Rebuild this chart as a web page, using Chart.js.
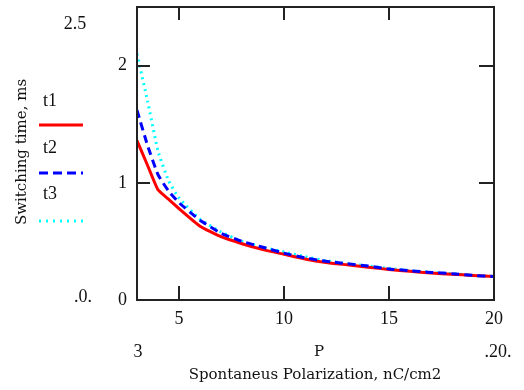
<!DOCTYPE html>
<html>
<head>
<meta charset="utf-8">
<script src="https://cdn.jsdelivr.net/npm/chart.js@4/dist/chart.umd.min.js"></script>
<style>
  html, body { margin: 0; padding: 0; background: #fff; }
  canvas { display: block; }
</style>
</head>
<body>
<canvas id="chart" width="524" height="390"></canvas>
<script>
// Switching time vs spontaneous polarization
const polarization = [3, 3.5, 4, 4.5, 5, 6, 7, 8, 9, 10, 11, 12, 13, 14, 15, 16, 17, 18, 19, 20];
const t1 = [1.36, 1.15, 0.94, 0.86, 0.78, 0.63, 0.54, 0.48, 0.43, 0.39, 0.35, 0.32, 0.30, 0.28, 0.26, 0.245, 0.23, 0.22, 0.21, 0.20];
const t2 = [1.62, 1.32, 1.07, 0.93, 0.83, 0.68, 0.57, 0.50, 0.45, 0.40, 0.36, 0.33, 0.31, 0.29, 0.265, 0.25, 0.235, 0.225, 0.21, 0.20];
const t3 = [2.10, 1.70, 1.27, 1.02, 0.87, 0.69, 0.58, 0.50, 0.45, 0.41, 0.37, 0.335, 0.31, 0.29, 0.27, 0.25, 0.235, 0.225, 0.21, 0.20];
const xTicks = [5, 10, 15, 20];
const yTicks = [0, 1, 2];
const seriesNames = ['t1', 't2', 't3'];

const colors = {
    t1: '#ff0000',
    t2: '#0000ff',
    t3: '#00ffff',
    axis: '#222222',
    text: '#111111'
};
const serif = "'Liberation Serif', 'DejaVu Serif', serif";
const titleFont = "'DejaVu Serif', serif";

function toPoints(values) {
    return polarization.map((p, i) => ({ x: p, y: values[i] }));
}

// Mathcad-style frame, inside ticks, legend and titles
const mathcadDecor = {
    id: 'mathcadDecor',
    afterDatasetsDraw(chart) {
        const ctx = chart.ctx;
        const area = chart.chartArea;
        const xs = chart.scales.x;
        const ys = chart.scales.y;
        ctx.save();

        // frame
        ctx.strokeStyle = colors.axis;
        ctx.lineWidth = 2;
        ctx.strokeRect(area.left, area.top, area.right - area.left, area.bottom - area.top);

        // inward ticks
        ctx.beginPath();
        [5, 10, 15].forEach(v => {
            const px = Math.round(xs.getPixelForValue(v));
            ctx.moveTo(px, area.bottom); ctx.lineTo(px, area.bottom - 14);
            ctx.moveTo(px, area.top); ctx.lineTo(px, area.top + 13);
        });
        [1, 2].forEach(v => {
            const py = Math.round(ys.getPixelForValue(v));
            ctx.moveTo(area.left, py); ctx.lineTo(area.left + 13, py);
            ctx.moveTo(area.right, py); ctx.lineTo(area.right - 15, py);
        });
        ctx.stroke();

        // limit labels
        ctx.fillStyle = colors.text;
        ctx.font = '18px ' + serif;
        ctx.textAlign = 'center';
        ctx.textBaseline = 'middle';
        ctx.fillText('2.5', 75, ys.getPixelForValue(2.5) + 17);
        ctx.fillText('.0.', 83, ys.getPixelForValue(0) - 3);
        ctx.fillText('3', xs.getPixelForValue(3) + 1, 352);
        ctx.fillText('.20.', xs.getPixelForValue(20) + 4, 352);
        ctx.font = '15px ' + titleFont;
        ctx.fillText('P', 319, 352);

        // axis titles
        ctx.fillText('Spontaneus Polarization, nC/cm2', 315, 375);
        ctx.save();
        ctx.translate(22, 152);
        ctx.rotate(-Math.PI / 2);
        ctx.fillText('Switching time, ms', 0, 0);
        ctx.restore();

        // legend
        const legendRows = [
            { label: seriesNames[0], color: colors.t1, dash: [], textY: 101, lineY: 125 },
            { label: seriesNames[1], color: colors.t2, dash: [9, 5], textY: 148, lineY: 173 },
            { label: seriesNames[2], color: colors.t3, dash: [2, 5], textY: 194, lineY: 221 }
        ];
        ctx.font = '18px ' + serif;
        legendRows.forEach(row => {
            ctx.fillStyle = colors.text;
            ctx.fillText(row.label, 50, row.textY);
            ctx.beginPath();
            ctx.strokeStyle = row.color;
            ctx.lineWidth = 3;
            ctx.setLineDash(row.dash);
            ctx.moveTo(39, row.lineY);
            ctx.lineTo(83, row.lineY);
            ctx.stroke();
        });
        ctx.setLineDash([]);
        ctx.restore();
    }
};

new Chart(document.getElementById('chart'), {
    type: 'line',
    data: {
        datasets: [
            {
                label: seriesNames[0],
                data: toPoints(t1),
                borderColor: colors.t1,
                borderWidth: 3,
                order: 2
            },
            {
                label: seriesNames[1],
                data: toPoints(t2),
                borderColor: colors.t2,
                borderWidth: 3,
                borderDash: [8, 5],
                order: 1
            },
            {
                label: seriesNames[2],
                data: toPoints(t3),
                borderColor: colors.t3,
                borderWidth: 3,
                borderDash: [2, 4],
                order: 3
            }
        ]
    },
    options: {
        responsive: false,
        animation: false,
        elements: {
            point: { radius: 0 },
            line: { tension: 0.15, fill: false }
        },
        layout: {
            padding: { top: 7, right: 30, left: 0, bottom: 0 }
        },
        plugins: {
            legend: { display: false },
            tooltip: { enabled: false }
        },
        scales: {
            x: {
                type: 'linear',
                min: 3,
                max: 20,
                afterBuildTicks: s => { s.ticks = xTicks.map(v => ({ value: v })); },
                afterFit: s => { s.height = 90; s.paddingLeft = 0; s.paddingRight = 0; },
                grid: { display: false, drawTicks: false },
                border: { display: false },
                ticks: {
                    color: colors.text,
                    font: { family: serif, size: 18 },
                    padding: 8,
                    maxRotation: 0
                }
            },
            y: {
                min: 0,
                max: 2.5,
                afterBuildTicks: s => { s.ticks = yTicks.map(v => ({ value: v })); },
                afterFit: s => { s.width = 137; s.paddingTop = 0; s.paddingBottom = 0; },
                grid: { display: false, drawTicks: false },
                border: { display: false },
                ticks: {
                    color: colors.text,
                    font: { family: serif, size: 18 },
                    padding: 10
                }
            }
        }
    },
    plugins: [mathcadDecor]
});
</script>
</body>
</html>
